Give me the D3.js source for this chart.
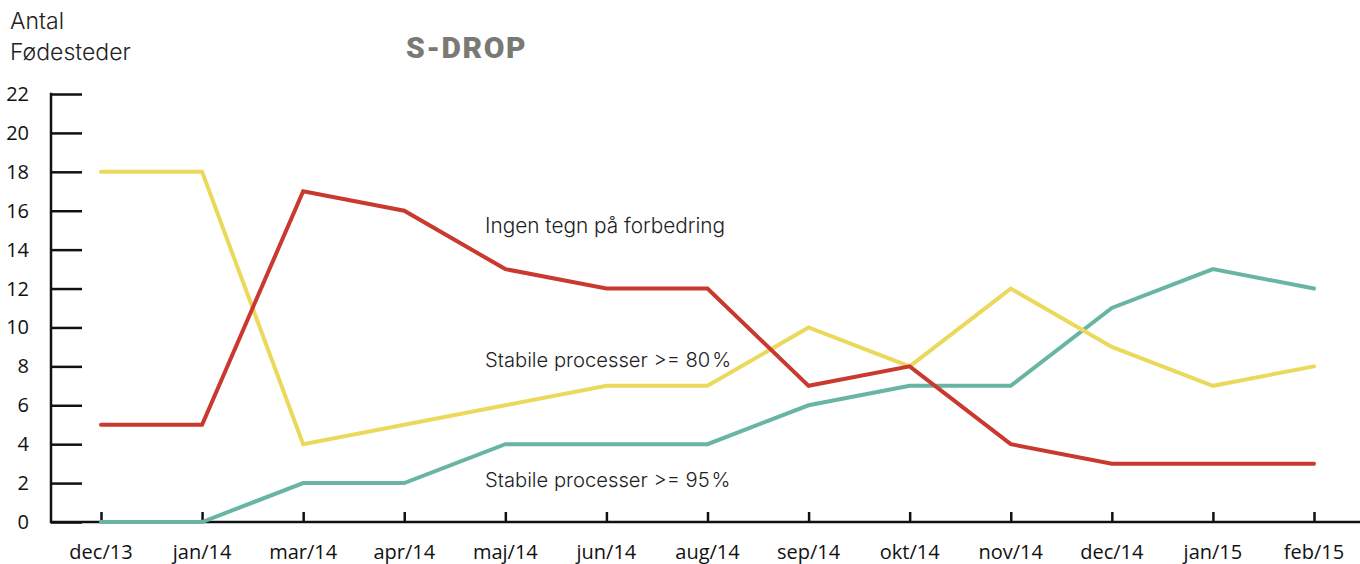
<!DOCTYPE html>
<html><head><meta charset="utf-8">
<script src="https://cdn.jsdelivr.net/npm/d3@7"></script>
<style>body{margin:0;background:#fff}svg{display:block}</style>
</head><body>
<svg id="c" width="1360" height="564"></svg>
<script>
const categories = ["dec/13","jan/14","mar/14","apr/14","maj/14","jun/14","aug/14","sep/14","okt/14","nov/14","dec/14","jan/15","feb/15"];
const ingenTegn = [5,5,17,16,13,12,12,7,8,4,3,3,3];
const stabile80 = [18,18,4,5,6,7,7,10,8,12,9,7,8];
const stabile95 = [0,0,2,2,4,4,4,6,7,7,11,13,12];
const yTicks = [0,2,4,6,8,10,12,14,16,18,20,22];

const svg = d3.select("#c");
const x = d3.scalePoint().domain(categories).range([101,1314]);
const y = d3.scaleLinear().domain([0,22]).range([522,94]);

// y axis
const yAxis = svg.append("g").attr("transform","translate(51,0)")
  .call(d3.axisRight(y).tickValues(yTicks).tickSize(31).tickFormat(""));
yAxis.select(".domain").remove();
yAxis.selectAll("line").attr("stroke","#111").attr("stroke-width",2.5);
svg.append("line").attr("x1",51).attr("x2",51).attr("y1",y(22)-1.2).attr("y2",y(0)+1.2)
  .attr("stroke","#111").attr("stroke-width",2.5);
svg.append("g").selectAll("text").data(yTicks).join("text")
  .attr("x",29).attr("y",d=>y(d)+7).attr("text-anchor","end")
  .attr("font-family","Open Sans, sans-serif").attr("font-size",20).attr("fill","#111")
  .text(d=>d);

// x axis
svg.append("line").attr("x1",51).attr("x2",1360).attr("y1",y(0)).attr("y2",y(0))
  .attr("stroke","#111").attr("stroke-width",2.5);
const xAxis = svg.append("g").attr("transform",`translate(0,${y(0)})`)
  .call(d3.axisTop(x).tickSize(10).tickFormat(""));
xAxis.select(".domain").remove();
xAxis.selectAll("line").attr("stroke","#111").attr("stroke-width",2.5);
svg.append("g").selectAll("text").data(categories).join("text")
  .attr("x",d=>x(d)).attr("y",559).attr("text-anchor","middle")
  .attr("font-family","Open Sans, sans-serif").attr("font-size",20).attr("fill","#111")
  .text(d=>d);

// lines
const line = d3.line().x((d,i)=>x(categories[i])).y(d=>y(d));
const series = [
  {v:stabile95,c:"#67b5a2"},
  {v:stabile80,c:"#ebd95c"},
  {v:ingenTegn,c:"#c9392f"}
];
svg.append("g").selectAll("path").data(series).join("path")
  .attr("d",d=>line(d.v)).attr("fill","none").attr("stroke",d=>d.c)
  .attr("stroke-width",4).attr("stroke-linejoin","miter").attr("stroke-linecap","round");

// texts
svg.append("text").attr("x",406).attr("y",58).attr("font-family","Roboto, sans-serif")
  .attr("font-weight",900).attr("font-size",30).attr("letter-spacing",1.6).attr("fill","#7a7a74").text("S-DROP");
const lab = svg.append("g").attr("font-family","Inter, sans-serif").attr("font-weight",300).attr("fill","#222");
lab.append("text").attr("x",10).attr("y",29).attr("font-size",23).text("Antal");
lab.append("text").attr("x",10).attr("y",60).attr("font-size",23).text("Fødesteder");
lab.append("text").attr("x",485).attr("y",233).attr("font-size",20.8).text("Ingen tegn på forbedring");
function pctLabel(yPos, pre, num){
  const t = lab.append("text").attr("x",485).attr("y",yPos).attr("font-size",20.2);
  t.append("tspan").text(pre + num);
  t.append("tspan").attr("font-size",7).text(" ");
  t.append("tspan").text("%");
}
pctLabel(367, "Stabile processer >= ", "80");
pctLabel(487, "Stabile processer >= ", "95");
</script>
</body></html>
